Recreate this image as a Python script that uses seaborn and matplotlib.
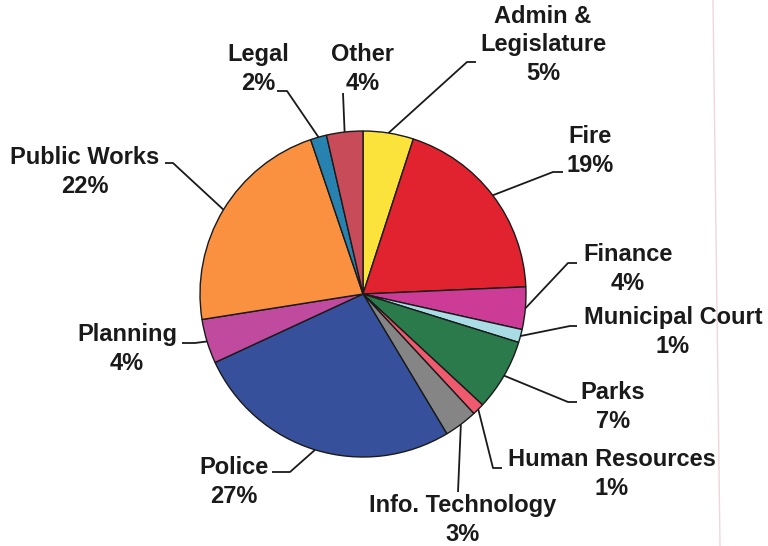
import numpy as np
import matplotlib
matplotlib.use("Agg")
import matplotlib.pyplot as plt
import seaborn as sns

# department share of budget (percent), clockwise from 12 o'clock
departments = ["Admin &\nLegislature", "Fire", "Finance", "Municipal Court", "Parks",
               "Human Resources", "Info. Technology", "Police", "Planning",
               "Public Works", "Legal", "Other"]
shares = [5.0, 19.3, 4.2, 1.3, 7.1, 1.2, 3.3, 26.7, 4.4, 22.3, 1.6, 3.6]
colors = ["#FCE33C", "#E0232F", "#CC3C96", "#AADCE6", "#2A7A4C", "#F05A6E",
          "#858585", "#37509B", "#C04A9E", "#FA9141", "#2882AF", "#C84B5A"]

W, H = 768, 546
CX, CY, R = 363, 294, 163

# label layout in pixel coords (text center, leader elbow, leader end)
text_pos = [(543, 45), (590, 151), (628, 269), (673, 332), (613, 407), (612, 474),
            (463, 520), (234, 482), (127, 349), (85, 172), (258, 69), (363, 69)]
leader_pts = [[(467, 62), (476, 62)], [(553, 172), (563, 172)], [(568, 263), (577, 263)],
              [(570, 326), (577, 326)], [(568, 402), (577, 402)], [(493, 468), (502, 468)],
              [(458, 492)], [(290, 472), (272, 472)], [(195, 343), (182, 343)],
              [(173, 163), (165, 163)], [(287, 91), (277, 91)], [(343, 93)]]

sns.set_theme(style="white")
plt.rcParams['font.family'] = ['Liberation Sans', 'DejaVu Sans']

fig = plt.figure(figsize=(W / 100, H / 100), dpi=100)
ax = fig.add_axes([0, 0, 1, 1])

wedges, _ = ax.pie(shares, colors=colors, startangle=90, counterclock=False,
                   center=(CX, H - CY), radius=R,
                   wedgeprops=dict(edgecolor="#1a1a1a", linewidth=1.0))

# pie() resets the limits, so set them afterwards
ax.set_xlim(0, W)
ax.set_ylim(0, H)
ax.set_aspect('equal')
ax.axis('off')

# faint page edge from the scan
ax.plot([713, 720], [H, 0], color="#f0d6dc", lw=1.0, zorder=0)

for w, name, val, tp, pts in zip(wedges, departments, shares, text_pos, leader_pts):
    mid = np.deg2rad((w.theta1 + w.theta2) / 2)
    sx = CX + R * np.cos(mid)
    sy = H - CY + R * np.sin(mid)
    xs = [sx] + [p[0] for p in pts]
    ys = [sy] + [H - p[1] for p in pts]
    ax.plot(xs, ys, color="#1a1a1a", lw=1.3, solid_capstyle='butt')
    ax.text(tp[0], H - tp[1], f"{name}\n{round(val)}%", ha='center', va='center',
            fontsize=17, fontweight='bold', color="#1a1a1a", linespacing=1.28)

fig.savefig("out.png", dpi=100, facecolor="white")
